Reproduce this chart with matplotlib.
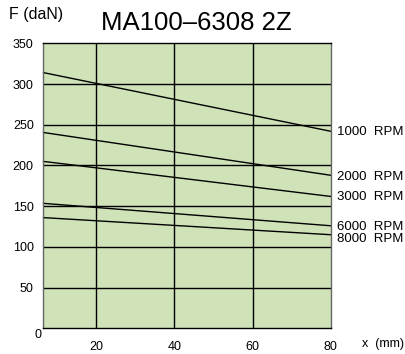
import matplotlib
matplotlib.use("Agg")
import matplotlib.pyplot as plt

plt.rcParams['font.family'] = ['Liberation Sans', 'DejaVu Sans']

title = "MA100\u20136308 2Z"
x_range = [6.5, 80]
series_labels = ["1000  RPM", "2000  RPM", "3000  RPM", "6000  RPM", "8000  RPM"]
start_values = [314, 240.5, 205, 153.5, 136]
end_values = [242, 188, 162, 126, 115]
label_offsets_px = [-1, -2, -1, -1.5, -4]
y_ticks = [50, 100, 150, 200, 250, 300, 350]
x_ticks = [20, 40, 60, 80]

W, H = 406, 354
fig = plt.figure(figsize=(W / 100, H / 100), dpi=100)
L, R, T, B = 43.5, 330.7, 43.3, 328.4
ax = fig.add_axes([L / W, 1 - B / H, (R - L) / W, (B - T) / H])
ax.set_facecolor('#cfe2b8')
ax.set_xlim(x_range[0], 80)
ax.set_ylim(0, 350)

for x in [20, 40, 60]:
    ax.axvline(x, color='black', lw=1.0, zorder=1)
for y in [50, 100, 150, 200, 250, 300]:
    ax.axhline(y, color='black', lw=1.0, zorder=1)

for lab, s, e, off in zip(series_labels, start_values, end_values, label_offsets_px):
    ax.plot(x_range, [s, e], color='black', lw=1.0, zorder=2, clip_on=False)
    ax.annotate(lab, xy=(80, e), xytext=(4.5, off * 0.72), textcoords='offset points',
                ha='left', va='center', fontsize=9.5, color='black', annotation_clip=False)

for side in ['top', 'bottom']:
    ax.spines[side].set_color('black')
    ax.spines[side].set_linewidth(1.0)
for side in ['left', 'right']:
    ax.spines[side].set_color('#666666')
    ax.spines[side].set_linewidth(1.0)

ax.set_yticks(y_ticks)
ax.set_yticklabels([str(v) for v in y_ticks])
ax.set_xticks(x_ticks)
ax.set_xticklabels([str(v) for v in x_ticks])
ax.set_yticks([350], minor=True)
ax.set_xticks([80], minor=True)
ax.tick_params(axis='y', which='major', length=0, pad=7, labelsize=9)
ax.tick_params(axis='x', which='major', length=0, pad=9, labelsize=9)
ax.tick_params(which='minor', length=4, width=0.8, color='#555555', direction='out')

fig.text(38 / W, 1 - 335 / H, "0", ha='center', va='center', fontsize=9)
fig.text(383 / W, 1 - 344 / H, "x  (mm)", ha='center', va='center', fontsize=9)
fig.text(36.5 / W, 1 - 15 / H, "F (daN)", ha='center', va='center', fontsize=11.5)
fig.text(196.7 / W, 1 - 23.5 / H, title, ha='center', va='center', fontsize=18.5)

fig.savefig("out.png", dpi=100)
